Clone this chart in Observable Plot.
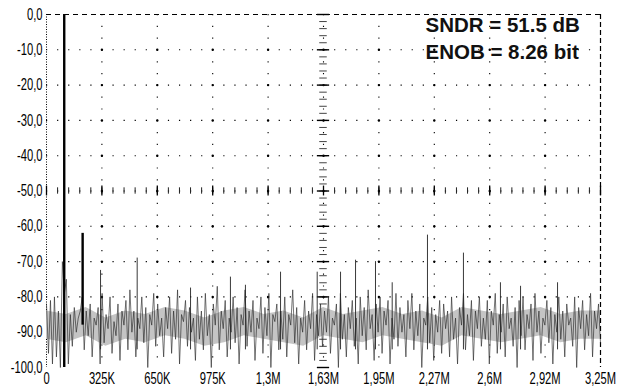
<!DOCTYPE html>
<html><head><meta charset="utf-8">
<script src="https://cdn.jsdelivr.net/npm/d3@7"></script>
<script src="https://cdn.jsdelivr.net/npm/@observablehq/plot@0.6"></script>
<style>
html,body{margin:0;padding:0;background:#fff;}
</style>
</head><body><div id="chart"></div>
<script>
// ---- data ----
const fMax = 3.25e6;
const nBins = 280;
const noiseDb = [
-82,-96,-81,-99,-80,-97,-84,-100,-70,-79,-75,-99,-85,-94,-83,-90,-86,-84,-80,-95,
-84,-91,-82,-97,-86,-88,-83,-99,-79,-93,-85,-89,-80,-96,-87,-91,-82,-98,-84,-88,
-81,-95,-78,-90,-84,-97,-86,-89,-80,-93,-83,-100,-85,-88,-79,-94,-82,-91,-86,-97,
-83,-89,-80,-96,-84,-92,-78,-99,-85,-87,-81,-94,-83,-90,-86,-98,-80,-92,-84,-95,
-79,-91,-85,-100,-82,-88,-77,-95,-84,-89,-81,-97,-86,-90,-80,-93,-83,-99,-85,-88,
-78,-94,-84,-90,-81,-98,-86,-89,-80,-96,-83,-91,-79,-100,-85,-87,-82,-95,-84,-92,
-80,-97,-85,-88,-78,-93,-83,-99,-86,-90,-81,-95,-84,-89,-79,-98,-85,-91,-82,-94,
-84,-90,-80,-96,-86,-88,-82,-100,-79,-92,-85,-97,-83,-89,-81,-94,-86,-99,-80,-91,
-83,-95,-78,-89,-85,-98,-82,-90,-80,-96,-84,-88,-81,-99,-86,-92,-79,-94,-83,-90,
-85,-97,-81,-89,-79,-95,-84,-91,-82,-100,-86,-88,-80,-93,-83,-98,-85,-90,-81,-96,
-82,-89,-84,-97,-80,-92,-86,-99,-83,-88,-79,-95,-85,-91,-81,-98,-84,-89,-80,-94,
-86,-92,-81,-99,-84,-88,-79,-96,-85,-90,-82,-97,-80,-89,-86,-94,-83,-100,-81,-91,
-80,-95,-85,-89,-82,-98,-79,-90,-84,-96,-86,-88,-81,-93,-83,-99,-85,-90,-80,-92,
-84,-97,-82,-88,-86,-94,-80,-100,-83,-89,-81,-95,-85,-91,-79,-97,-84,-89,-82,-93
];
const bandTop = [-84,-85,-83,-86,-84,-85,-83,-84,-86,-84,-83,-85,-84,-86,-83,-85,-84,-83,-85,-84,-86,-83,-84,-85,-84,-83,-85,-84,-84];
const bandBot = [-92,-93,-91,-94,-92,-93,-91,-92,-94,-93,-91,-92,-93,-94,-91,-92,-93,-91,-92,-93,-94,-91,-92,-93,-92,-91,-93,-92,-92];
const toneFreq = 104e3, toneDb = 0;
const strongSpurFreq = [212e3], strongSpurDb = [-62];
const spurFreq = [317e3, 532e3, 845e3, 1.079e6, 1.167e6, 1.373e6, 1.588e6, 1.725e6, 1.813e6, 1.930e6, 2.028e6, 2.235e6, 2.446e6, 2.663e6, 2.781e6, 2.998e6];
const spurDb   = [-72.5, -69, -77.5, -74.4, -76.7, -73, -73, -73, -69.6, -70, -76, -62.5, -67.6, -76, -77, -76];
const xTicks = [0, 325e3, 650e3, 975e3, 1.3e6, 1.625e6, 1.95e6, 2.275e6, 2.6e6, 2.925e6, 3.25e6];
const xTickLabels = ["0","325K","650K","975K","1,3M","1,63M","1,95M","2,27M","2,6M","2,92M","3,25M"];
const yTicks = [0,-10,-20,-30,-40,-50,-60,-70,-80,-90,-100];
const yTickLabels = ["0,0","-10,0","-20,0","-30,0","-40,0","-50,0","-60,0","-70,0","-80,0","-90,0","-100,0"];
const annotation = ["SNDR = 51.5 dB", "ENOB = 8.26 bit"];

// ---- tables ----
const binStep = fMax / (nBins - 1);
const noise = noiseDb.map((db, i) => ({f: i * binStep, db}));
const bandStep = fMax / (bandTop.length - 1);
const band = bandTop.map((hi, j) => ({f: j * bandStep, hi, lo: bandBot[j]}));
const spurs = spurFreq.map((f, i) => ({f, db: spurDb[i]}));
const strong = strongSpurFreq.map((f, i) => ({f, db: strongSpurDb[i]}));
const gx = xTicks.slice(1, -1);
const gy = yTicks.slice(1, -1);
const center = xTicks[5], centerDb = yTicks[5];
const minorX = d3.range(0, fMax + 1, xTicks[1] / 5);
const minorY = d3.range(0, -100.01, -2);

const svg = Plot.plot({
  width: 617, height: 389,
  marginLeft: 46, marginRight: 17, marginTop: 14, marginBottom: 22,
  style: {fontFamily: "'Liberation Sans', Arial, sans-serif", fontSize: "16px", color: "#000", background: "#fff"},
  x: {domain: [0, fMax], ticks: xTicks, tickFormat: d => xTickLabels[xTicks.indexOf(d)], tickSize: 0, tickPadding: 5, label: null},
  y: {domain: [-100, 0], ticks: yTicks, tickFormat: d => yTickLabels[yTicks.indexOf(d)], tickSize: 0, tickPadding: 4, label: null},
  marks: [
    Plot.ruleX(gx, {stroke: "#000", strokeWidth: 1.1, strokeDasharray: "1.2,10.6"}),
    Plot.ruleY(gy, {stroke: "#000", strokeWidth: 1.1, strokeDasharray: "1.2,9.88"}),
    Plot.dot(d3.cross(gx, gy), {x: d => d[0], y: d => d[1], r: 1.2, fill: "#000", stroke: "none"}),
    Plot.ruleY(minorY, {y: d => d, x1: center - 22e3, x2: center + 22e3, stroke: "#444", strokeWidth: 1}),
    Plot.ruleY(yTicks, {y: d => d, x1: center - 36e3, x2: center + 36e3, stroke: "#000", strokeWidth: 1.4}),
    Plot.ruleX(minorX, {x: d => d, y1: centerDb - 0.9, y2: centerDb + 0.9, stroke: "#222", strokeWidth: 1}),
    Plot.ruleX(xTicks, {x: d => d, y1: centerDb - 1.4, y2: centerDb + 1.4, stroke: "#000", strokeWidth: 1.3}),
    Plot.ruleY([0], {stroke: "#000", strokeWidth: 1, strokeDasharray: "5,4"}),
    Plot.ruleX([fMax], {stroke: "#000", strokeWidth: 1.2, strokeDasharray: "5,3"}),
    Plot.ruleX([0], {stroke: "#000", strokeWidth: 1, strokeDasharray: "1,1.5"}),
    Plot.areaY(band, {x: "f", y1: "lo", y2: "hi", fill: "#c4c4c4"}),
    Plot.lineY(noise, {x: "f", y: "db", stroke: "#2a2a2a", strokeWidth: 0.65}),
    Plot.ruleX(spurs, {x: "f", y1: -95, y2: "db", stroke: "#222", strokeWidth: 0.9}),
    Plot.ruleX(strong, {x: "f", y1: -88, y2: "db", stroke: "#000", strokeWidth: 2.4}),
    Plot.ruleX([{f: toneFreq, db: toneDb}], {x: "f", y1: -100, y2: "db", stroke: "#000", strokeWidth: 2.4}),
    Plot.text([annotation.join("\n")], {frameAnchor: "top-left", textAnchor: "start", lineAnchor: "top", dx: 379, dy: -2, lineHeight: 1.32, fontSize: 20.5, fontWeight: "bold", fill: "#111"})
  ]
});

document.getElementById("chart").appendChild(svg);

// condense the tick labels horizontally around their anchor
const sx = 0.7;
d3.select(svg).selectAll('g[aria-label="x-axis tick label"] text').each(function() {
  const b = this.getBBox();
  const ax = b.x + b.width / 2;
  const t = this.getAttribute("transform") || "";
  this.setAttribute("transform", `${t} translate(${ax},0) scale(${sx},1) translate(${-ax},0)`);
});
d3.select(svg).selectAll('g[aria-label="y-axis tick label"] text').each(function() {
  const b = this.getBBox();
  const ax = b.x + b.width;
  const t = this.getAttribute("transform") || "";
  this.setAttribute("transform", `${t} translate(${ax},0) scale(${sx},1) translate(${-ax},0)`);
});
</script>
</body></html>
